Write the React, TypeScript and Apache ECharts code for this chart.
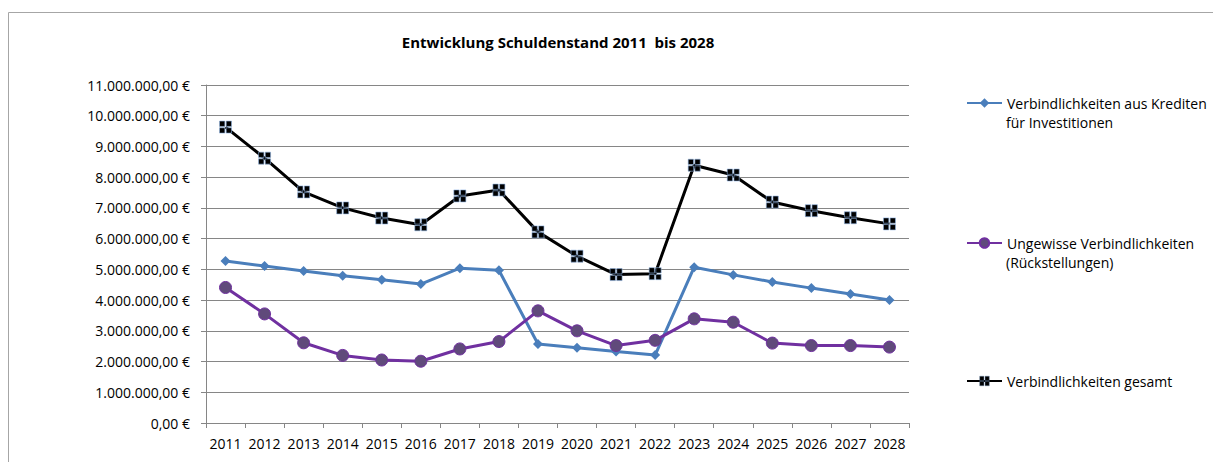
import React, { useEffect, useRef } from "react";
import * as echarts from "echarts";

const years = ["2011","2012","2013","2014","2015","2016","2017","2018","2019","2020","2021","2022","2023","2024","2025","2026","2027","2028"];
const kredite = [5270000,5110000,4950000,4790000,4660000,4520000,5040000,4970000,2570000,2450000,2330000,2210000,5070000,4820000,4590000,4390000,4200000,4000000];
const rueckstellungen = [4410000,3550000,2610000,2200000,2050000,2010000,2410000,2650000,3650000,3000000,2520000,2690000,3390000,3280000,2600000,2520000,2520000,2470000];
const gesamt = [9630000,8620000,7520000,7000000,6670000,6450000,7390000,7580000,6220000,5430000,4830000,4860000,8390000,8070000,7190000,6910000,6680000,6480000];

const nameKredite = "Verbindlichkeiten aus Krediten für Investitionen";
const nameRueck = "Ungewisse Verbindlichkeiten (Rückstellungen)";
const nameGesamt = "Verbindlichkeiten gesamt";

const FONT = "'Open Sans', 'Noto Sans', sans-serif";

function fmtEuro(v: number): string {
  const intPart = Math.floor(v).toString().replace(/\B(?=(\d{3})+(?!\d))/g, ".");
  return intPart + ",00 €";
}

const crossSquare = "path://M0,0H4V4H0Z M5,0H9V4H5Z M0,5H4V9H0Z M5,5H9V9H5Z";

export default function App() {
  const ref = useRef<HTMLDivElement>(null);
  useEffect(() => {
    if (!ref.current) return;
    const chart = echarts.init(ref.current, undefined, { renderer: "svg" });
    const legendBase = {
      orient: "vertical" as const,
      left: 961,
      itemWidth: 35,
      itemHeight: 12,
      itemGap: 5,
      textStyle: { fontFamily: FONT, fontSize: 14, color: "#000" },
      selectedMode: false,
    };
    chart.setOption({
      animation: false,
      backgroundColor: "#fff",
      textStyle: { fontFamily: FONT },
      grid: { left: 206, top: 85, right: 304, bottom: 39, containLabel: false },
      legend: [
        { ...legendBase, top: 91, data: [nameKredite], formatter: () => "Verbindlichkeiten aus Krediten" },
        { ...legendBase, top: 231, data: [nameRueck], formatter: () => "Ungewisse Verbindlichkeiten" },
        {
          ...legendBase,
          top: 369,
          data: [{ name: nameGesamt, itemStyle: { color: "#000", borderColor: "#6f8fb8", borderWidth: 0.4 } }],
        },
      ],
      graphic: [
        { type: "line", shape: { x1: 8.5, y1: 12.5, x2: 1213, y2: 12.5 }, style: { stroke: "#a6a6a6", lineWidth: 1 } },
        { type: "line", shape: { x1: 8.5, y1: 12.5, x2: 8.5, y2: 462 }, style: { stroke: "#a6a6a6", lineWidth: 1 } },
        { type: "text", x: 558, y: 42, style: { text: "Entwicklung Schuldenstand 2011  bis 2028", font: "bold 15px " + FONT, fill: "#000", textAlign: "center", textVerticalAlign: "middle" } },
        { type: "text", x: 1006, y: 122, style: { text: "für Investitionen", font: "14px " + FONT, fill: "#000", textAlign: "left", textVerticalAlign: "middle" } },
        { type: "text", x: 1006, y: 262, style: { text: "(Rückstellungen)", font: "14px " + FONT, fill: "#000", textAlign: "left", textVerticalAlign: "middle" } },
      ],
      xAxis: {
        type: "category",
        data: years,
        boundaryGap: true,
        axisLine: { lineStyle: { color: "#868686", width: 1 } },
        axisTick: { show: true, length: 5, lineStyle: { color: "#868686" } },
        axisLabel: { color: "#000", fontSize: 14, margin: 13, fontFamily: FONT, interval: 0 },
      },
      yAxis: {
        type: "value",
        min: 0,
        max: 11000000,
        interval: 1000000,
        axisLine: { show: true, lineStyle: { color: "#868686", width: 1 } },
        axisTick: { show: true, length: 5, lineStyle: { color: "#868686" } },
        splitLine: { lineStyle: { color: "#868686", width: 1 } },
        axisLabel: { color: "#000", fontSize: 14, margin: 16, fontFamily: FONT, formatter: (v: number) => fmtEuro(v) },
      },
      series: [
        {
          name: nameKredite,
          type: "line",
          data: kredite,
          symbol: "diamond",
          symbolSize: 10,
          lineStyle: { color: "#4a7ebb", width: 3 },
          itemStyle: { color: "#4a7ebb" },
        },
        {
          name: nameRueck,
          type: "line",
          data: rueckstellungen,
          symbol: "circle",
          symbolSize: 12,
          lineStyle: { color: "#7030a0", width: 3 },
          itemStyle: { color: "#604a7b", borderColor: "#7030a0", borderWidth: 1 },
        },
        {
          name: nameGesamt,
          type: "line",
          data: gesamt,
          symbol: crossSquare,
          symbolSize: 12,
          lineStyle: { color: "#000", width: 3 },
          itemStyle: { color: "#000", borderColor: "#8eb4e3", borderWidth: 0.6 },
        },
      ],
    });
    return () => chart.dispose();
  }, []);
  return <div ref={ref} style={{ position: "absolute", left: 0, top: 0, width: 1213, height: 462 }} />;
}
